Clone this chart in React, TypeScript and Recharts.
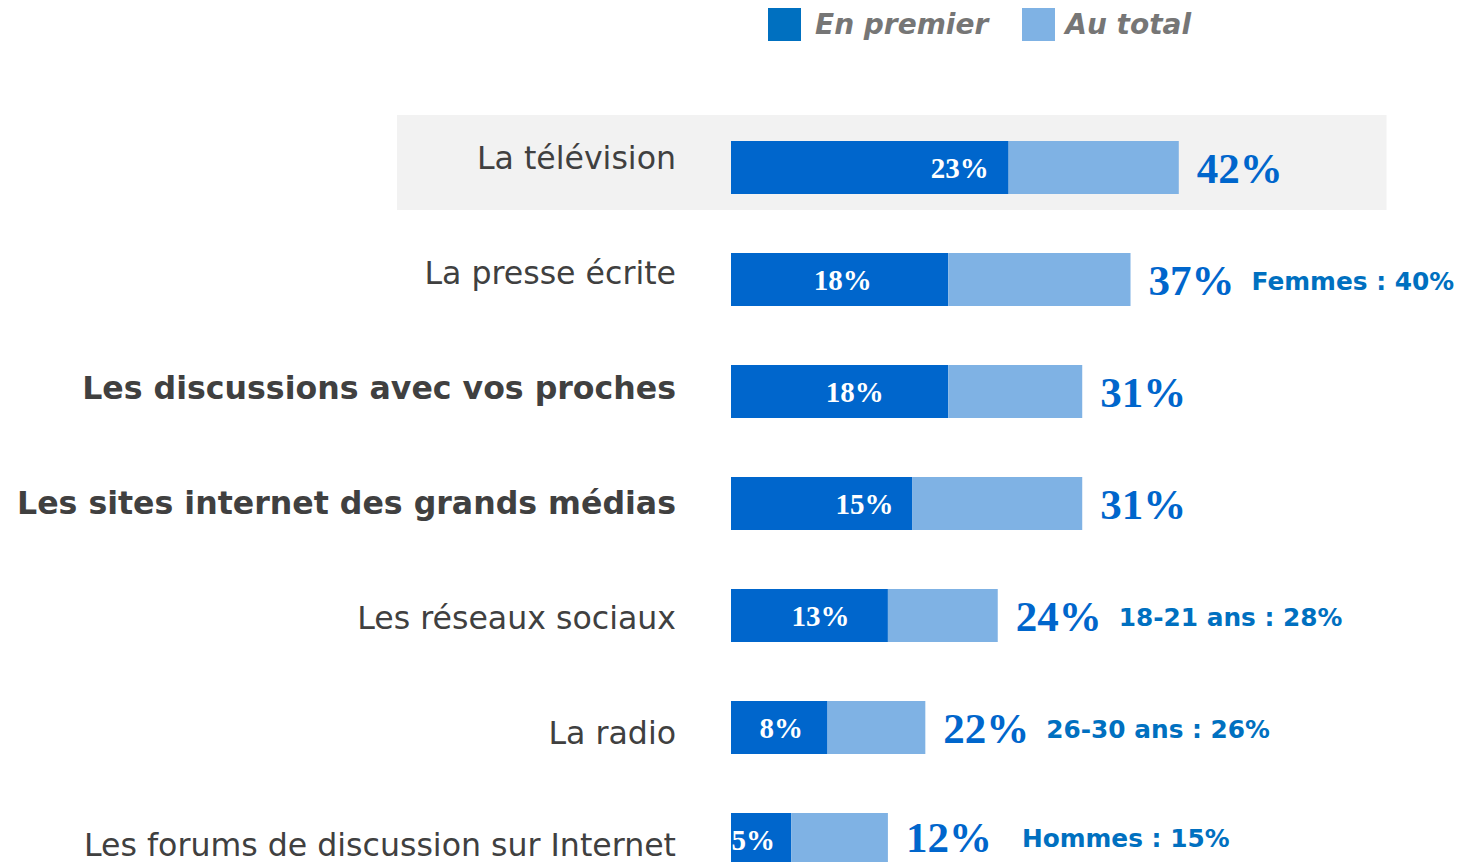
import React from 'react';
import { BarChart, Bar, XAxis, YAxis, ReferenceArea, LabelList } from 'recharts';

const categories = [
  'La télévision',
  'La presse écrite',
  'Les discussions avec vos proches',
  'Les sites internet des grands médias',
  'Les réseaux sociaux',
  'La radio',
  'Les forums de discussion sur Internet',
];
const boldCategories = ['Les discussions avec vos proches', 'Les sites internet des grands médias'];

const firstValues = [23, 18, 18, 15, 13, 8, 5];
const totalValues = [42, 37, 31, 31, 24, 22, 12];
// where the total bars end in the source slide (they are not drawn to scale with the printed totals)
const totalBarEnds = [37.1, 33.1, 29.1, 29.1, 22.1, 16.1, 13.0];
const notes = ['', 'Femmes : 40%', '', '', '18-21 ans : 28%', '26-30 ans : 26%', 'Hommes : 15%'];

// horizontal nudge of the white labels inside the dark bars (style only)
const innerLabelDx = [90, 3, 15, 43, 11, 2, -8];

const DARK = '#0066cc';
const LIGHT = '#7fb2e4';
const LABEL_GREY = '#404040';
const NOTE_BLUE = '#0070c0';

const data = categories.map((name, i) => ({
  idx: i,
  name,
  first: firstValues[i],
  rest: totalBarEnds[i] - firstValues[i],
}));

const CategoryTick = (props: any) => {
  const { x, y, payload, index } = props;
  const bold = boldCategories.includes(payload.value);
  // labels drift slightly downward row by row in the source
  const shift = Math.min((index - 3) * 3, 6);
  return (
    <text
      x={x}
      y={y + shift}
      dy="0.36em"
      textAnchor="end"
      fill={LABEL_GREY}
      fontFamily="DejaVu Sans, Verdana, sans-serif"
      fontSize={31.6}
      fontWeight={bold ? 700 : 400}
    >
      {payload.value}
    </text>
  );
};

const InnerLabel = (props: any) => {
  const { x, y, width, height, value } = props;
  return (
    <text
      x={x + width / 2 + innerLabelDx[value]}
      y={y + height / 2}
      dy="0.35em"
      textAnchor="middle"
      fill="#ffffff"
      fontFamily="Liberation Serif, Times New Roman, serif"
      fontWeight={700}
      fontSize={29}
    >
      {firstValues[value]}%
    </text>
  );
};

const OuterLabel = (props: any) => {
  const { x, y, width, height, value } = props;
  // keep the last row's label inside the visible page
  const cy = y + height / 2 - (value === 6 ? 3 : 0);
  return (
    <text x={x + width + 18} y={cy} textAnchor="start" fontSize={43}>
      <tspan
        dy="0.35em"
        fill={DARK}
        fontFamily="Liberation Serif, Times New Roman, serif"
        fontWeight={700}
        fontSize={43}
      >
        {totalValues[value]}%
      </tspan>
      {notes[value] && (
        <tspan
          dx={value === 6 ? 30 : 17}
          dy={-5}
          fill={NOTE_BLUE}
          fontFamily="DejaVu Sans, Verdana, sans-serif"
          fontWeight={700}
          fontSize={24.8}
        >
          {notes[value]}
        </tspan>
      )}
    </text>
  );
};

const Highlight = (props: any) => {
  const { x, y, width } = props;
  return <rect x={x - 334} y={y + 4} width={width + 386} height={95} fill="#f2f2f2" />;
};

const legendText: React.CSSProperties = {
  fontFamily: 'DejaVu Sans, Verdana, sans-serif',
  fontSize: 28,
  fontWeight: 700,
  fontStyle: 'italic',
  color: '#767676',
  lineHeight: '33px',
};

export default function App() {
  return (
    <div style={{ position: 'fixed', left: 0, top: 0, width: 1457, height: 862, overflow: 'hidden', background: '#fff' }}>
      <div style={{ position: 'absolute', left: 768, top: 8, display: 'flex', alignItems: 'center', zIndex: 2 }}>
        <div style={{ width: 33, height: 33, background: '#0070c0' }} />
        <span style={{ ...legendText, marginLeft: 14 }}>En premier</span>
        <div style={{ width: 33, height: 33, background: '#7fb2e4', marginLeft: 34 }} />
        <span style={{ ...legendText, marginLeft: 10 }}>Au total</span>
      </div>
      <BarChart
        width={1457}
        height={895}
        data={data}
        layout="vertical"
        margin={{ top: 111, right: 122.5, bottom: 0, left: 0 }}
        barSize={53}
      >
        <ReferenceArea
          y1="La télévision"
          y2="La télévision"
          ifOverflow="visible"
          shape={<Highlight />}
        />
        <XAxis type="number" domain={[0, 50]} hide />
        <YAxis
          type="category"
          dataKey="name"
          width={731}
          axisLine={false}
          tickLine={false}
          tickSize={0}
          tickMargin={55}
          interval={0}
          tick={<CategoryTick />}
        />
        <Bar dataKey="first" stackId="a" fill={DARK} isAnimationActive={false}>
          <LabelList dataKey="idx" content={<InnerLabel />} />
        </Bar>
        <Bar dataKey="rest" stackId="a" fill={LIGHT} isAnimationActive={false}>
          <LabelList dataKey="idx" content={<OuterLabel />} />
        </Bar>
      </BarChart>
    </div>
  );
}
